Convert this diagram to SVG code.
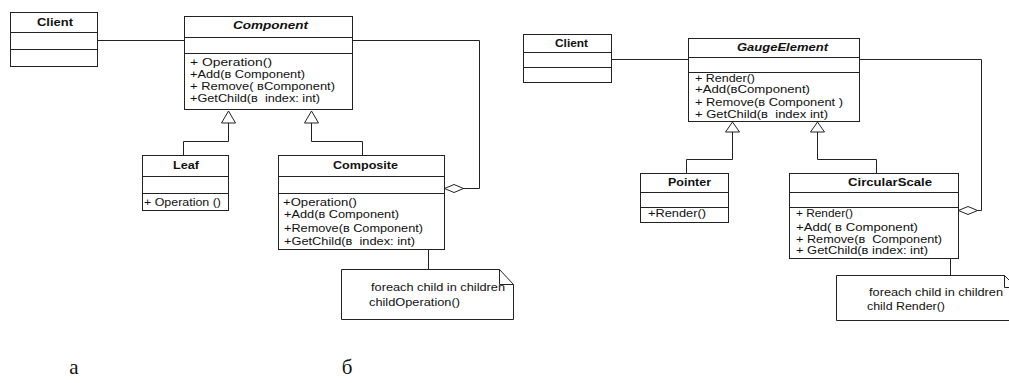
<svg xmlns="http://www.w3.org/2000/svg" width="1009" height="383" viewBox="0 0 1009 383">
<style>
.box{fill:#fff;stroke:#222;stroke-width:1}
.ln{fill:none;stroke:#222;stroke-width:1}
.tri{fill:#fff;stroke:#222;stroke-width:1}
.t{font-family:"Liberation Sans",Arial,sans-serif;font-size:11.5px;fill:#111;white-space:pre}
.h{font-family:"Liberation Sans",Arial,sans-serif;font-size:10.5px;font-weight:bold;fill:#111}
.hi{font-style:italic}
.lab{font-family:"Liberation Serif","Times New Roman",serif;font-size:21px;fill:#111}
</style>
<rect width="1009" height="383" fill="#fff"/>
<g id="connectors">
<path class="ln" d="M97.5,40.5H184.5"/>
<path class="ln" d="M352.5,40.5H479.5V188.5H463"/>
<path class="ln" d="M228.5,123V141.5H183.5V155"/>
<path class="ln" d="M311.5,123V141.5H362.5V155"/>
<polygon class="tri" points="228.5,111 221.5,123 235.5,123"/>
<polygon class="tri" points="311.5,111 304.5,123 318.5,123"/>
<polygon class="tri" points="444.5,188.5 454,184.5 463.5,188.5 454,192.5"/>
<path class="ln" d="M428.5,204V269"/>
<path class="ln" d="M611.5,59.5H688.5"/>
<path class="ln" d="M859.5,59.5H981.5V210.5H977"/>
<path class="ln" d="M732.5,132V159.5H686.5V173"/>
<path class="ln" d="M817.5,132V159.5H876.5V173"/>
<polygon class="tri" points="732.5,122 725.5,132 739.5,132"/>
<polygon class="tri" points="817.5,122 810.5,132 824.5,132"/>
<polygon class="tri" points="958.5,210.5 968,206.5 977.5,210.5 968,214.5"/>
<path class="ln" d="M950.5,227V275"/>
</g>
<g id="client-a">
<rect class="box" x="10.5" y="12.5" width="87" height="54"/>
<path class="ln" d="M10.5,32.5H97.5M10.5,49.5H97.5"/>
<text class="h" x="37" y="26" textLength="36" lengthAdjust="spacingAndGlyphs">Client</text>
</g>
<g id="component-a">
<rect class="box" x="184.5" y="16.5" width="168" height="93"/>
<path class="ln" d="M184.5,37.5H352.5M184.5,53.5H352.5"/>
<text class="h hi" x="233" y="29" textLength="75" lengthAdjust="spacingAndGlyphs">Component</text>
<text class="t" x="190" y="66" textLength="82" lengthAdjust="spacingAndGlyphs">+ Operation()</text>
<text class="t" x="190" y="78" textLength="115" lengthAdjust="spacingAndGlyphs">+Add(в Component)</text>
<text class="t" x="190" y="90" textLength="145" lengthAdjust="spacingAndGlyphs">+ Remove( вComponent)</text>
<text class="t" x="190" y="102" textLength="130" lengthAdjust="spacingAndGlyphs">+GetChild(в  index: int)</text>
</g>
<g id="leaf-a">
<rect class="box" x="142.5" y="155.5" width="86" height="55"/>
<path class="ln" d="M142.5,176.5H228.5M142.5,193.5H228.5"/>
<text class="h" x="173" y="169" textLength="26" lengthAdjust="spacingAndGlyphs">Leaf</text>
<text class="t" x="144" y="206" textLength="77" lengthAdjust="spacingAndGlyphs">+ Operation ()</text>
</g>
<g id="composite-a">
<rect class="box" x="278.5" y="155.5" width="166" height="94"/>
<path class="ln" d="M278.5,176.5H444.5M278.5,193.5H444.5"/>
<text class="h" x="333" y="169" textLength="65" lengthAdjust="spacingAndGlyphs">Composite</text>
<text class="t" x="283" y="206" textLength="74" lengthAdjust="spacingAndGlyphs">+Operation()</text>
<text class="t" x="284" y="218" textLength="115" lengthAdjust="spacingAndGlyphs">+Add(в Component)</text>
<text class="t" x="284" y="232" textLength="139" lengthAdjust="spacingAndGlyphs">+Remove(в Component)</text>
<text class="t" x="284" y="245" textLength="131" lengthAdjust="spacingAndGlyphs">+GetChild(в  index: int)</text>
</g>
<g id="note-a">
<path class="box" d="M341.5,269.5H499.5L513.5,284.5V319.5H341.5Z"/>
<path class="ln" d="M499.5,269.5V284.5H513.5"/>
<text class="t" x="371" y="291" textLength="134" lengthAdjust="spacingAndGlyphs">foreach child in children</text>
<text class="t" x="369" y="306" textLength="91" lengthAdjust="spacingAndGlyphs">childOperation()</text>
</g>
<g id="client-b">
<rect class="box" x="523.5" y="34.5" width="88" height="48"/>
<path class="ln" d="M523.5,52.5H611.5M523.5,67.5H611.5"/>
<text class="h" x="555" y="47" textLength="33" lengthAdjust="spacingAndGlyphs">Client</text>
</g>
<g id="gauge-b">
<rect class="box" x="688.5" y="38.5" width="171" height="83"/>
<path class="ln" d="M688.5,57.5H859.5M688.5,72.5H859.5"/>
<text class="h hi" x="737" y="51" textLength="91" lengthAdjust="spacingAndGlyphs">GaugeElement</text>
<text class="t" x="695" y="82" textLength="60" lengthAdjust="spacingAndGlyphs">+ Render()</text>
<text class="t" x="695" y="93" textLength="115" lengthAdjust="spacingAndGlyphs">+Add(вComponent)</text>
<text class="t" x="695" y="106" textLength="148" lengthAdjust="spacingAndGlyphs">+ Remove(в Component )</text>
<text class="t" x="695" y="118" textLength="133" lengthAdjust="spacingAndGlyphs">+ GetChild(в  index int)</text>
</g>
<g id="pointer-b">
<rect class="box" x="640.5" y="173.5" width="88" height="49"/>
<path class="ln" d="M640.5,192.5H728.5M640.5,207.5H728.5"/>
<text class="h" x="668" y="186" textLength="43" lengthAdjust="spacingAndGlyphs">Pointer</text>
<text class="t" x="648" y="217" textLength="58" lengthAdjust="spacingAndGlyphs">+Render()</text>
</g>
<g id="circular-b">
<rect class="box" x="789.5" y="173.5" width="169" height="85"/>
<path class="ln" d="M789.5,192.5H958.5M789.5,207.5H958.5"/>
<text class="h" x="848" y="186" textLength="84" lengthAdjust="spacingAndGlyphs">CircularScale</text>
<text class="t" x="796" y="217" textLength="57" lengthAdjust="spacingAndGlyphs">+ Render()</text>
<text class="t" x="796" y="231" textLength="122" lengthAdjust="spacingAndGlyphs">+Add( в Component)</text>
<text class="t" x="796" y="243" textLength="146" lengthAdjust="spacingAndGlyphs">+ Remove(в  Component)</text>
<text class="t" x="796" y="254" textLength="132" lengthAdjust="spacingAndGlyphs">+ GetChild(в index: int)</text>
</g>
<g id="note-b">
<path class="box" d="M836.5,275.5H1004.5L1018,289V320.5H836.5Z"/>
<path class="ln" d="M1004.5,275.5V287.5H1009"/>
<text class="t" x="869" y="296" textLength="134" lengthAdjust="spacingAndGlyphs">foreach child in children</text>
<text class="t" x="867" y="310" textLength="78" lengthAdjust="spacingAndGlyphs">child Render()</text>
</g>
<g id="labels">
<text class="lab" x="74" y="374" text-anchor="middle">а</text>
<text class="lab" x="347" y="374" text-anchor="middle">б</text>
</g>
</svg>
